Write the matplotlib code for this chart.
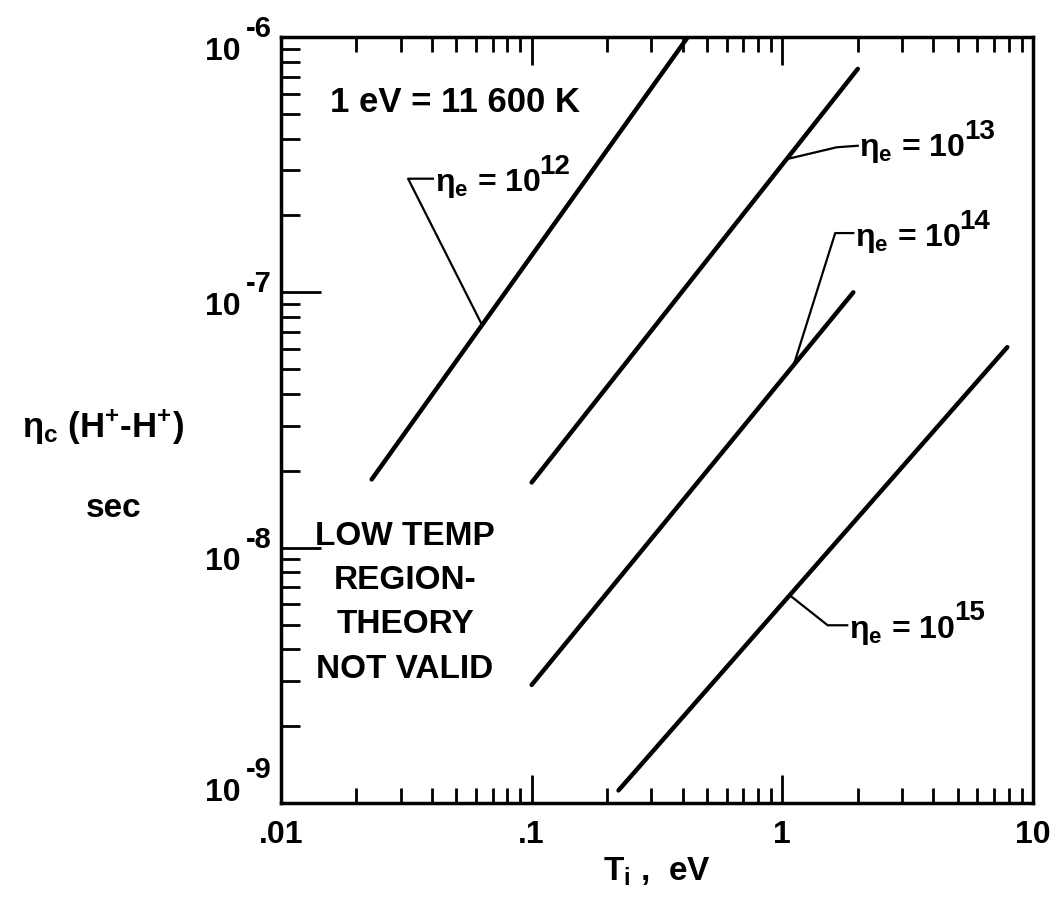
import numpy as np
import matplotlib.pyplot as plt
from matplotlib.ticker import FixedLocator, LogLocator, NullFormatter
from matplotlib.transforms import blended_transform_factory, offset_copy

plt.rcParams['font.family'] = ['Liberation Sans', 'DejaVu Sans']
plt.rcParams['font.weight'] = 'bold'
plt.rcParams['axes.labelweight'] = 'bold'
plt.rcParams['mathtext.default'] = 'regular'

# electron density exponents and the end points of each line (T_i in eV, tau in s)
densities = ['12', '13', '14', '15']
t_start = [0.023, 0.1, 0.1, 0.222]
t_end = [0.42, 2.0, 1.92, 7.9]
tau_start = [1.85e-8, 1.8e-8, 2.9e-9, 1.12e-9]
tau_end = [1.0e-6, 7.5e-7, 1.0e-7, 6.1e-8]

# where each leader line touches its curve (T_i value)
leader_t = [0.0634, 1.04, 1.11, 1.07]

x_ticks = [0.01, 0.1, 1, 10]
x_tick_labels = ['.01', '.1', '1', '10']
y_ticks = [1e-9, 1e-8, 1e-7, 1e-6]
y_tick_exps = ['-9', '-8', '-7', '-6']

# label layout in axes fraction: leader corner, end of short bar, text baseline
label_corner = [(0.169, 0.815), (0.739, 0.856), (0.737, 0.744), (0.727, 0.232)]
label_bar = [(0.202, 0.815), (0.767, 0.858), (0.761, 0.744), (0.753, 0.232)]
label_text = [(0.205, 0.799), (0.769, 0.845), (0.763, 0.727), (0.756, 0.216)]


def frac_to_data(fx, fy):
    return 10 ** (-2 + 3 * fx), 10 ** (-9 + 3 * fy)


fig = plt.figure(figsize=(10.56, 9.13), dpi=100)
ax = fig.add_axes([0.2661, 0.1205, 0.7121, 0.8390])
ax.set_xscale('log')
ax.set_yscale('log')
ax.set_xlim(0.01, 10)
ax.set_ylim(1e-9, 1e-6)

for i in range(len(densities)):
    ax.plot([t_start[i], t_end[i]], [tau_start[i], tau_end[i]],
            color='black', lw=3.2, solid_capstyle='round')

    # leader from the line to the label
    lx0, lx1 = np.log10(t_start[i]), np.log10(t_end[i])
    ly0, ly1 = np.log10(tau_start[i]), np.log10(tau_end[i])
    frac = (np.log10(leader_t[i]) - lx0) / (lx1 - lx0)
    tip_y = 10 ** (ly0 + frac * (ly1 - ly0))
    cx, cy = frac_to_data(*label_corner[i])
    bx, by = frac_to_data(*label_bar[i])
    ax.plot([leader_t[i], cx, bx], [tip_y, cy, by], color='black', lw=1.6)

    # typewriter style: exponent nearly as big as the base
    tx, ty = label_text[i]
    base = ax.text(tx, ty, 'η$_{e}$ = 10', transform=ax.transAxes,
                   fontsize=23, ha='left', va='baseline')
    ax.annotate(densities[i], xy=(1, 1), xycoords=base, xytext=(-1, -5),
                textcoords='offset points', fontsize=20, ha='left', va='baseline')

ax.text(0.065, 0.915, '1 eV = 11 600 K', transform=ax.transAxes,
        fontsize=25, ha='left', va='center')
ax.text(0.165, 0.368, 'LOW TEMP\nREGION-\nTHEORY\nNOT VALID', transform=ax.transAxes,
        fontsize=24, ha='center', va='top', multialignment='center', linespacing=1.55)

# y label in two pieces, as in the original
ax.text(-0.237, 0.491, 'η$_{c}$ (H$^{+}$-H$^{+}$)', transform=ax.transAxes,
        fontsize=25, ha='center', va='center')
ax.text(-0.222, 0.385, 'sec', transform=ax.transAxes,
        fontsize=24, ha='center', va='center')
ax.set_xlabel('T$_{i}$ ,  eV', fontsize=24, labelpad=4)

ax.xaxis.set_major_locator(FixedLocator(x_ticks))
ax.set_xticklabels(x_tick_labels)
ax.yaxis.set_major_locator(FixedLocator(y_ticks))
ax.yaxis.set_major_formatter(NullFormatter())
ax.xaxis.set_minor_locator(LogLocator(base=10, subs=np.arange(2, 10)))
ax.yaxis.set_minor_locator(LogLocator(base=10, subs=np.arange(2, 10)))
ax.xaxis.set_minor_formatter(NullFormatter())
ax.yaxis.set_minor_formatter(NullFormatter())

# y tick labels drawn by hand so the exponent can be full size
ytrans = blended_transform_factory(ax.transAxes, ax.transData)
for val, exp in zip(y_ticks, y_tick_exps):
    shift = 18 if val == y_ticks[0] else 0
    sup = ax.text(0, val, exp, transform=offset_copy(ytrans, fig, x=-6.5, y=shift, units='points'),
                  fontsize=21, ha='right', va='baseline', clip_on=False)
    ax.annotate('10', xy=(0, 0), xycoords=sup, xytext=(-4, -12),
                textcoords='offset points', fontsize=23, ha='right', va='baseline')

ax.tick_params(axis='y', which='major', direction='in', length=29, width=2,
               left=True, right=False)
ax.tick_params(axis='y', which='minor', direction='in', length=14, width=2,
               left=True, right=False)
ax.tick_params(axis='x', which='major', direction='in', length=20, width=2,
               bottom=True, top=True, labelsize=23, pad=12)
ax.tick_params(axis='x', which='minor', direction='in', length=11, width=2,
               bottom=True, top=True)

for side in ax.spines.values():
    side.set_linewidth(2.5)

fig.savefig('out.png', dpi=100)
plt.close(fig)
